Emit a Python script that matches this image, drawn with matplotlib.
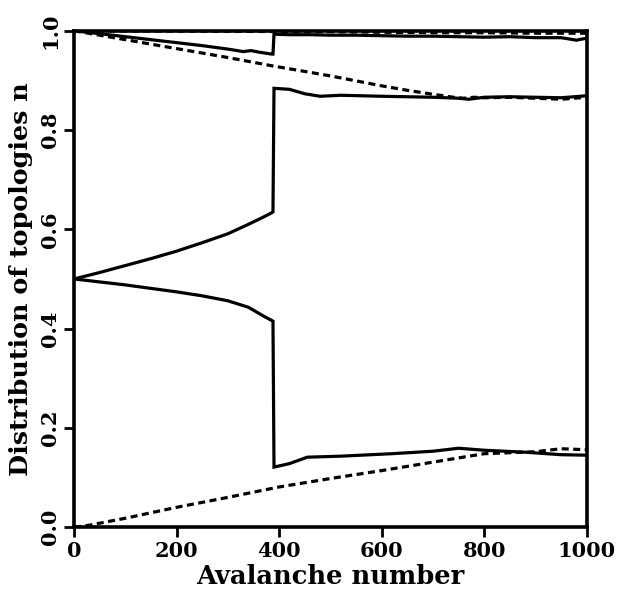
import matplotlib
matplotlib.use("Agg")
import matplotlib.pyplot as plt

# ---- data ----
top_solid_x = [0, 50, 100, 150, 200, 250, 300, 330, 345, 360, 385, 388, 390, 420, 460, 500, 550, 600, 650, 700, 750, 800, 850, 900, 950, 980, 1000]
top_solid_y = [1.0, 0.994, 0.988, 0.982, 0.976, 0.970, 0.963, 0.958, 0.960, 0.957, 0.953, 0.953, 0.993, 0.992, 0.992, 0.991, 0.991, 0.990, 0.989, 0.989, 0.988, 0.987, 0.988, 0.986, 0.986, 0.981, 0.985]

top_dash_x = [0, 250, 500, 600, 700, 800, 900, 1000]
top_dash_y = [1.0, 0.999, 0.998, 0.997, 0.996, 0.996, 0.995, 0.995]

upper_dash_x = [0, 100, 200, 300, 388, 450, 500, 550, 600, 650, 700, 740, 760, 780, 800, 850, 900, 950, 1000]
upper_dash_y = [1.0, 0.982, 0.964, 0.946, 0.929, 0.918, 0.909, 0.899, 0.889, 0.880, 0.872, 0.866, 0.864, 0.866, 0.865, 0.866, 0.864, 0.862, 0.866]

upper_solid_x = [0, 50, 100, 150, 200, 250, 300, 340, 370, 385, 388, 390, 420, 450, 480, 520, 560, 600, 650, 700, 750, 770, 800, 850, 900, 950, 1000]
upper_solid_y = [0.5, 0.513, 0.527, 0.541, 0.556, 0.573, 0.591, 0.610, 0.625, 0.633, 0.635, 0.884, 0.882, 0.873, 0.868, 0.870, 0.869, 0.868, 0.867, 0.866, 0.864, 0.862, 0.866, 0.867, 0.866, 0.865, 0.869]

lower_solid_x = [0, 50, 100, 150, 200, 250, 300, 340, 370, 388, 390, 420, 455, 520, 620, 700, 750, 800, 880, 950, 1000]
lower_solid_y = [0.5, 0.494, 0.488, 0.481, 0.474, 0.466, 0.456, 0.443, 0.425, 0.415, 0.121, 0.128, 0.141, 0.143, 0.148, 0.153, 0.159, 0.155, 0.151, 0.146, 0.145]

lower_dash_x = [0, 30, 60, 100, 200, 300, 400, 500, 600, 700, 800, 850, 900, 950, 1000]
lower_dash_y = [0.0, 0.004, 0.010, 0.018, 0.040, 0.060, 0.081, 0.098, 0.114, 0.131, 0.148, 0.150, 0.152, 0.158, 0.156]

x_ticks = [0, 200, 400, 600, 800, 1000]
y_ticks = [0.0, 0.2, 0.4, 0.6, 0.8, 1.0]
y_tick_labels = ["0.0", "0.2", "0.4", "0.6", "0.8", "1.0"]

# ---- figure ----
plt.rcParams['font.family'] = ['DejaVu Serif']
plt.rcParams['font.weight'] = 'bold'

fig = plt.figure(figsize=(6.17, 5.91), dpi=100)
ax = fig.add_axes([0.120, 0.108, 0.831, 0.840])

lw = 2.3
dash = (0, (2.2, 1.4))
ax.plot(top_solid_x, top_solid_y, color='black', lw=lw, solid_joinstyle='miter')
ax.plot(top_dash_x, top_dash_y, color='black', lw=lw, linestyle=dash)
ax.plot(upper_dash_x, upper_dash_y, color='black', lw=lw, linestyle=dash)
ax.plot(upper_solid_x, upper_solid_y, color='black', lw=lw, solid_joinstyle='miter')
ax.plot(lower_solid_x, lower_solid_y, color='black', lw=lw, solid_joinstyle='miter')
ax.plot(lower_dash_x, lower_dash_y, color='black', lw=lw, linestyle=dash)

ax.set_xlim(0, 1000)
ax.set_ylim(0, 1.0)
ax.set_xticks(x_ticks)
ax.set_yticks(y_ticks)
ax.set_yticklabels(y_tick_labels, rotation=90, va='center')

for s in ax.spines.values():
    s.set_linewidth(2.6)

ax.tick_params(axis='both', direction='out', length=7, width=2.0, labelsize=15)
ax.tick_params(axis='x', pad=3)
ax.tick_params(axis='y', pad=3)
for lab in ax.get_xticklabels() + ax.get_yticklabels():
    lab.set_fontweight('bold')

ax.set_xlabel("Avalanche number", fontsize=18.5, fontweight='bold', labelpad=2)
ax.set_ylabel("Distribution of topologies n", fontsize=18.3, fontweight='bold', labelpad=5)

fig.savefig("out.png", dpi=100)
